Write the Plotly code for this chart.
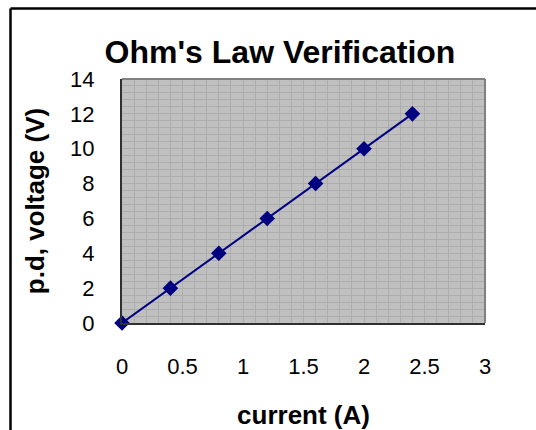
import plotly.graph_objects as go

current = [0, 0.4, 0.8, 1.2, 1.6, 2.0, 2.4]
voltage = [0, 2, 4, 6, 8, 10, 12]
title_text = "Ohm's Law Verification"
x_title = "current (A)"
y_title = "p.d, voltage (V)"

L, R, T, B = 122, 51, 79, 107
W, H = 536, 430
pw, ph = W - L - R, H - T - B

def px(x):
    return (x - L) / pw

def py(y):
    return (H - B - y) / ph

fig = go.Figure()
fig.add_trace(go.Scatter(
    x=current, y=voltage, mode="lines+markers",
    line=dict(color="#000080", width=2),
    marker=dict(symbol="diamond", size=12, color="#000080"),
    cliponaxis=False, showlegend=False,
))

grid = "#adadad"
fig.update_layout(
    width=W, height=H,
    margin=dict(l=L, r=R, t=T, b=B, autoexpand=False),
    paper_bgcolor="white", plot_bgcolor="#c0c0c0",
    font=dict(family="Arial, Liberation Sans, sans-serif", color="black"),
    title=dict(text="<b>" + title_text + "</b>", x=280 / W, xanchor="center",
               y=1 - 52 / H, yanchor="middle", font=dict(size=32)),
    xaxis=dict(range=[0, 3], dtick=0.5, tick0=0, showgrid=True, gridcolor=grid, gridwidth=1,
               minor=dict(dtick=0.1, showgrid=True, gridcolor=grid, gridwidth=1),
               showline=True, linecolor="#303030", linewidth=2, zeroline=False,
               ticks="outside", ticklen=0, tickcolor="rgba(0,0,0,0)", ticklabelstandoff=23,
               tickfont=dict(size=22), automargin=False,
               title=dict(text="<b>" + x_title + "</b>", font=dict(size=26), standoff=38)),
    yaxis=dict(range=[0, 14], dtick=2, tick0=0, showgrid=True, gridcolor=grid, gridwidth=1,
               minor=dict(dtick=0.4, showgrid=True, gridcolor=grid, gridwidth=1),
               showline=True, linecolor="#303030", linewidth=2, zeroline=False,
               ticks="outside", ticklen=0, tickcolor="rgba(0,0,0,0)", ticklabelstandoff=21,
               tickfont=dict(size=22), automargin=False,
               title=dict(text="<b>" + y_title + "</b>", font=dict(size=26), standoff=18)),
    shapes=[
        dict(type="line", xref="paper", yref="paper", x0=0, x1=1, y0=1, y1=1,
             line=dict(color="#808080", width=2)),
        dict(type="line", xref="paper", yref="paper", x0=1, x1=1, y0=0, y1=1,
             line=dict(color="#808080", width=2)),
        dict(type="line", xref="paper", yref="paper", x0=px(10.5), x1=px(560), y0=py(8.5), y1=py(8.5),
             line=dict(color="black", width=2.5)),
        dict(type="line", xref="paper", yref="paper", x0=px(10.5), x1=px(10.5), y0=py(8.5), y1=py(460),
             line=dict(color="black", width=2.5)),
    ],
)

fig.write_html("out.html", config={"displayModeBar": False},
               post_script="document.body.style.margin='0';document.body.style.overflow='hidden';")
